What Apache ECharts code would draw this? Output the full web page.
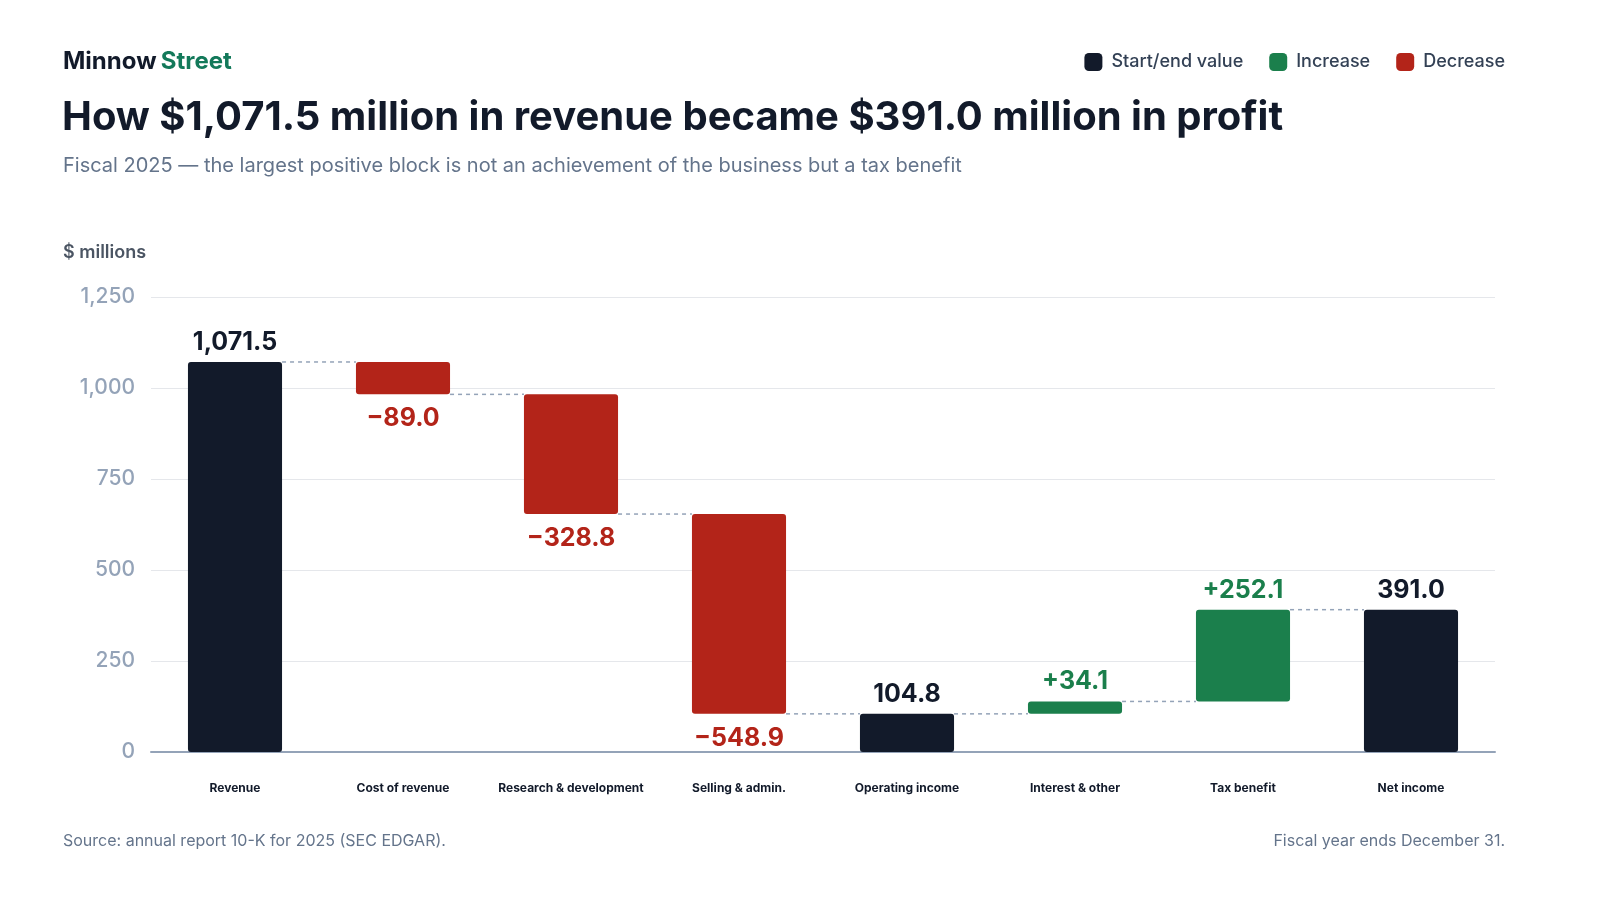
<!DOCTYPE html>
<html>
<head>
<meta charset="utf-8">
<title>Minnow Street waterfall</title>
<script src="https://cdn.jsdelivr.net/npm/echarts@6/dist/echarts.min.js"></script>
<style>
  html, body { margin: 0; padding: 0; background: #ffffff; }
  #main { width: 1600px; height: 900px; }
</style>
</head>
<body>
<div id="main"></div>
<script type="text/javascript">
    // data
    var categories = ['Revenue', 'Cost of revenue', 'Research & development', 'Selling & admin.',
                      'Operating income', 'Interest & other', 'Tax benefit', 'Net income'];
    var values = [1071.5, -89.0, -328.8, -548.9, 104.8, 34.1, 252.1, 391.0];
    var kinds = ['total', 'delta', 'delta', 'delta', 'total', 'delta', 'delta', 'total'];
    var yTicks = [0, 250, 500, 750, 1000, 1250];

    var DARK = '#121a2a';
    var GREEN = '#1b7f4c';
    var RED = '#b32419';
    var FONT = 'Inter, "Noto Sans", sans-serif';

    // build stacked pieces: invisible base + visible block
    var baseData = [], totalData = [], upData = [], downData = [], levels = [];
    var running = 0;
    for (var i = 0; i < values.length; i++) {
        var v = values[i];
        if (kinds[i] === 'total') {
            running = v;
            baseData.push(0);
            totalData.push(v);
            upData.push('-');
            downData.push('-');
        } else if (v >= 0) {
            baseData.push(running);
            upData.push(v);
            totalData.push('-');
            downData.push('-');
            running += v;
        } else {
            running += v;
            baseData.push(running);
            downData.push(-v);
            totalData.push('-');
            upData.push('-');
        }
        levels.push(Math.round(running * 10) / 10);
    }

    function fmtTotal(v) {
        return v.toLocaleString('en-US', { minimumFractionDigits: 1, maximumFractionDigits: 1 });
    }

    var connectorData = [];
    for (var j = 0; j < values.length - 1; j++) {
        connectorData.push([j, levels[j]]);
    }

    var barRatio = 0.56;

    var myChart = echarts.init(document.getElementById('main'));

    var option = {
        backgroundColor: '#ffffff',
        animation: false,
        textStyle: { fontFamily: FONT },
        title: [
            {
                text: '{a|Minnow} {b|Street}',
                left: 63, top: 50, padding: 0,
                textStyle: {
                    rich: {
                        a: { fontFamily: FONT, fontSize: 24, fontWeight: 700, color: DARK },
                        b: { fontFamily: FONT, fontSize: 24, fontWeight: 700, color: '#13795a' }
                    }
                }
            },
            {
                text: 'How $1,071.5 million in revenue became $391.0 million in profit',
                left: 62, top: 98, padding: 0,
                textStyle: { fontFamily: FONT, fontSize: 40, fontWeight: 700, color: DARK }
            },
            {
                text: 'Fiscal 2025 \u2014 the largest positive block is not an achievement of the business but a tax benefit',
                left: 63, top: 156, padding: 0,
                textStyle: { fontFamily: FONT, fontSize: 20, fontWeight: 400, color: '#64748b' }
            },
            {
                text: '$ millions',
                left: 63, top: 244, padding: 0,
                textStyle: { fontFamily: FONT, fontSize: 18, fontWeight: 600, color: '#4b5563' }
            },
            {
                text: 'Source: annual report 10-K for 2025 (SEC EDGAR).',
                left: 63, top: 833, padding: 0,
                textStyle: { fontFamily: FONT, fontSize: 16, fontWeight: 400, color: '#64748b' }
            },
            {
                text: 'Fiscal year ends December 31.',
                right: 95, top: 833, padding: 0,
                textStyle: { fontFamily: FONT, fontSize: 16, fontWeight: 400, color: '#64748b' }
            }
        ],
        legend: {
            right: 95, top: 53, padding: 0,
            itemWidth: 18, itemHeight: 18, itemGap: 26,
            icon: 'roundRect',
            selectedMode: false,
            data: ['Start/end value', 'Increase', 'Decrease'],
            textStyle: { fontFamily: FONT, fontSize: 18, fontWeight: 500, color: '#334155', padding: [0, 0, 0, 4] }
        },
        grid: { left: 151, right: 105, top: 297, bottom: 148, containLabel: false },
        xAxis: {
            type: 'category',
            data: categories,
            axisTick: { show: false },
            axisLine: { lineStyle: { color: '#94a3b8', width: 2 } },
            axisLabel: { interval: 0, margin: 30, fontFamily: FONT, fontSize: 12, fontWeight: 700, color: DARK }
        },
        yAxis: {
            type: 'value',
            min: yTicks[0], max: yTicks[yTicks.length - 1], interval: 250,
            axisLine: { show: false },
            axisTick: { show: false },
            splitLine: { lineStyle: { color: '#e5e7eb', width: 1 } },
            axisLabel: {
                margin: 16, fontFamily: FONT, fontSize: 21, fontWeight: 500, color: '#94a3b8',
                formatter: function (v) { return v.toLocaleString('en-US'); }
            }
        },
        series: [
            {
                name: 'base', type: 'bar', stack: 'wf', barWidth: (barRatio * 100) + '%',
                itemStyle: { color: 'transparent' },
                emphasis: { disabled: true },
                data: baseData
            },
            {
                name: 'Start/end value', type: 'bar', stack: 'wf',
                itemStyle: { color: DARK, borderRadius: 3 },
                label: {
                    show: true, position: 'top', distance: 7, color: DARK,
                    fontFamily: FONT, fontSize: 25, fontWeight: 700,
                    formatter: function (p) { return fmtTotal(p.value); }
                },
                data: totalData
            },
            {
                name: 'Increase', type: 'bar', stack: 'wf',
                itemStyle: { color: GREEN, borderRadius: 3 },
                label: {
                    show: true, position: 'top', distance: 7, color: GREEN,
                    fontFamily: FONT, fontSize: 25, fontWeight: 700,
                    formatter: function (p) { return '+' + p.value.toFixed(1); }
                },
                data: upData
            },
            {
                name: 'Decrease', type: 'bar', stack: 'wf',
                itemStyle: { color: RED, borderRadius: 3 },
                label: {
                    show: true, position: 'bottom', distance: 12, color: RED,
                    fontFamily: FONT, fontSize: 25, fontWeight: 700,
                    formatter: function (p) { return '\u2212' + p.value.toFixed(1); }
                },
                data: downData
            },
            {
                name: 'connector', type: 'custom', silent: true, z: 1,
                renderItem: function (params, api) {
                    var idx = api.value(0);
                    var lvl = api.value(1);
                    var p0 = api.coord([idx, lvl]);
                    var p1 = api.coord([idx + 1, lvl]);
                    var half = api.size([1, 0])[0] * barRatio / 2;
                    return {
                        type: 'line',
                        shape: { x1: p0[0] + half, y1: p0[1], x2: p1[0] - half, y2: p1[1] },
                        style: { stroke: '#94a3b8', lineWidth: 1.5, lineDash: [4, 4] }
                    };
                },
                data: connectorData
            }
        ]
    };

    myChart.setOption(option);
</script>
</body>
</html>
